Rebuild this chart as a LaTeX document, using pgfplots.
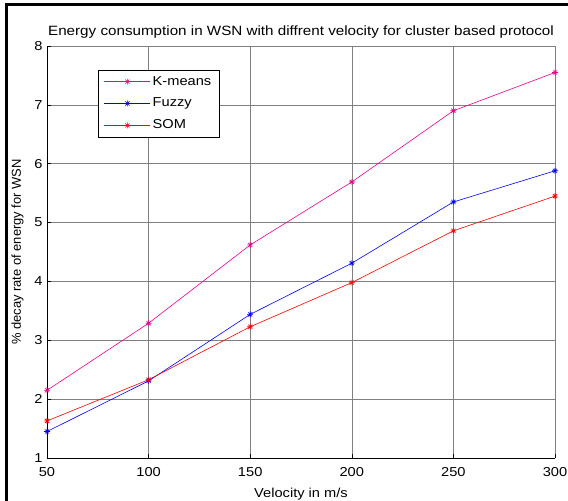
\documentclass[border=0pt]{standalone}
\usepackage{fontspec}
% the reference is stretched sideways a little
\setmainfont{Liberation Sans}[FakeStretch=1.13]
\newfontfamily\ylfont{Liberation Sans}
\usepackage{pgfplots}
\pgfplotsset{compat=1.18}

\newcommand\lgf{\fontsize{13}{15.6}\selectfont}

% matlab style '*' marker: plus and cross together
\pgfdeclareplotmark{mstar}{%
  \pgfpathmoveto{\pgfqpoint{-\pgfplotmarksize}{0pt}}%
  \pgfpathlineto{\pgfqpoint{\pgfplotmarksize}{0pt}}%
  \pgfpathmoveto{\pgfqpoint{0pt}{-\pgfplotmarksize}}%
  \pgfpathlineto{\pgfqpoint{0pt}{\pgfplotmarksize}}%
  \pgfpathmoveto{\pgfqpoint{-0.7\pgfplotmarksize}{-0.7\pgfplotmarksize}}%
  \pgfpathlineto{\pgfqpoint{0.7\pgfplotmarksize}{0.7\pgfplotmarksize}}%
  \pgfpathmoveto{\pgfqpoint{-0.7\pgfplotmarksize}{0.7\pgfplotmarksize}}%
  \pgfpathlineto{\pgfqpoint{0.7\pgfplotmarksize}{-0.7\pgfplotmarksize}}%
  \pgfusepathqstroke}

\begin{document}
\lgf
\begin{tikzpicture}
    % page size fixed first, the x label is cut at the bottom like the reference
    \useasboundingbox (-47bp,-43bp) rectangle (521bp,458bp);
    \begin{axis}[
        scale only axis,
        width=508bp,
        height=412bp,
        xmin=50, xmax=300,
        ymin=1, ymax=8,
        xtick={50,100,150,200,250,300},
        ytick={1,2,3,4,5,6,7,8},
        axis x line*=bottom,
        axis y line*=left,
        axis line style={black, line width=0.6pt},
        tick align=inside,
        major tick length=4bp,
        tick style={black, line width=0.6pt},
        grid=major,
        grid style={black!50, line width=0.6pt},
        /pgf/number format/assume math mode=true,
        tick label style={font=\lgf},
        xticklabel style={yshift=-5bp},
        title={Energy consumption in WSN with diffrent velocity for cluster based protocol},
        title style={font=\fontsize{13.5}{16}\selectfont, yshift=-3bp},
        xlabel={Velocity in m/s},
        ylabel={\% decay rate of energy for WSN},
        xlabel style={font=\lgf, yshift=-3bp},
        ylabel style={font=\lgf\ylfont, yshift=2bp},
        legend style={at={(0.100,0.942)}, anchor=north west,
            draw=black, line width=0.6pt,
            row sep=7bp, inner xsep=6bp, inner ysep=4bp},
        legend cell align=left,
        legend image code/.code={
            \draw[#1] (0bp,0bp) -- (46bp,0bp);
            \draw[#1, only marks] plot coordinates {(23bp,0bp)};
        },
        every axis plot/.append style={line width=0.6pt, mark=mstar, mark size=3bp,
            mark options={line width=0.6pt}},
    ]
    \addplot[color=magenta] coordinates {
        (50, 2.15)
        (100, 3.29)
        (150, 4.62)
        (200, 5.69)
        (250, 6.90)
        (300, 7.55)
    };
    \addplot[color=blue] coordinates {
        (50, 1.45)
        (100, 2.31)
        (150, 3.44)
        (200, 4.31)
        (250, 5.35)
        (300, 5.88)
    };
    \addplot[color=red] coordinates {
        (50, 1.63)
        (100, 2.33)
        (150, 3.23)
        (200, 3.98)
        (250, 4.86)
        (300, 5.45)
    };
    \legend{\lgf K-means, \lgf Fuzzy, \lgf SOM}
    \end{axis}
    % outer frame, cut at right and bottom like the reference
    \draw[line width=3bp] (-40bp,-43bp) -- (-40bp,453bp) -- (521bp,453bp);
\end{tikzpicture}
\end{document}
